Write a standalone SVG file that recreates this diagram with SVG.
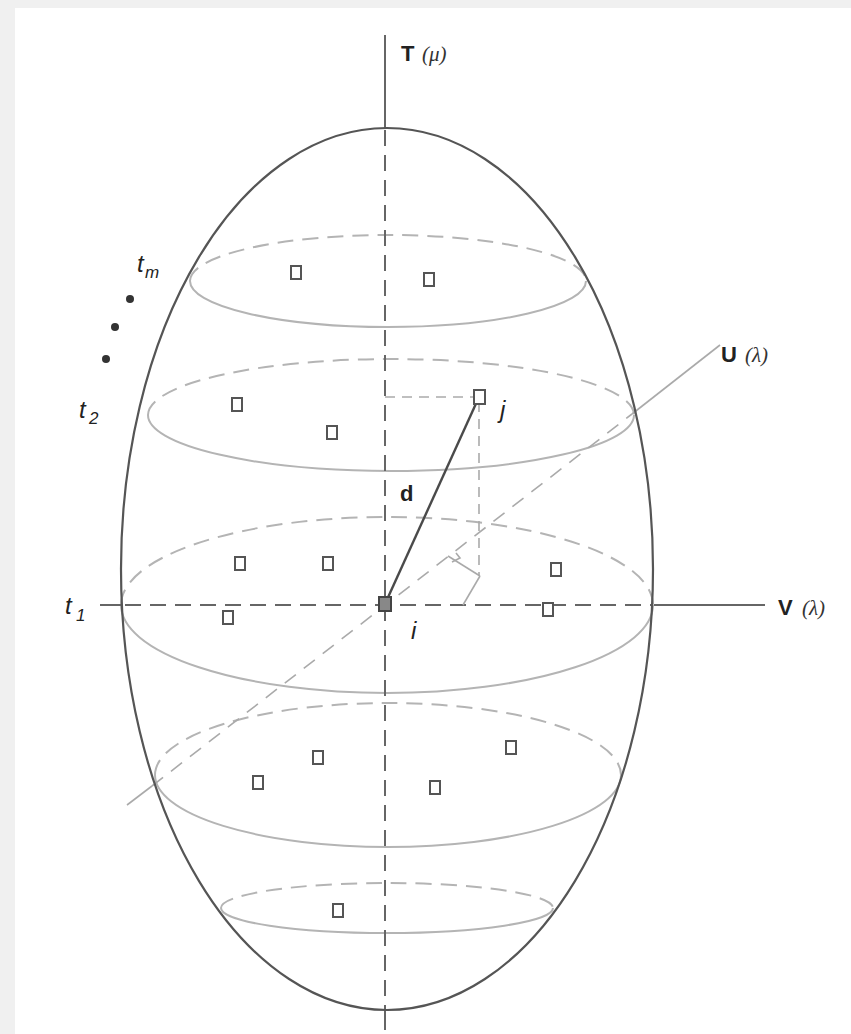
<svg xmlns="http://www.w3.org/2000/svg" width="851" height="1034" viewBox="0 0 851 1034">
<defs>
<style>
.outline{fill:none;stroke:#555;stroke-width:2.2}
.back{fill:none;stroke:#b4b4b4;stroke-width:2;stroke-dasharray:16 9}
.front{fill:none;stroke:#b4b4b4;stroke-width:2}
.axis{fill:none;stroke:#666;stroke-width:2}
.axisd{fill:none;stroke:#666;stroke-width:2;stroke-dasharray:16 9}
.uax{fill:none;stroke:#aaa;stroke-width:1.6}
.uaxd{fill:none;stroke:#aaa;stroke-width:1.6;stroke-dasharray:14 10}
.proj{fill:none;stroke:#aaa;stroke-width:1.6;stroke-dasharray:10 7}
.pt{fill:#fff;stroke:#555;stroke-width:2}
.lbl{font-family:"Liberation Sans",Arial,sans-serif;font-size:22px;fill:#222}
.it{font-family:"Liberation Sans",Arial,sans-serif;font-style:italic;font-size:24px;fill:#222}
.sub{font-family:"Liberation Sans",Arial,sans-serif;font-style:italic;font-size:17px;fill:#222}
.par{font-family:"Liberation Serif","Times New Roman",serif;font-style:italic;font-size:21px;fill:#333}
</style>
</defs>
<rect width="851" height="1034" fill="#f0f0f0"/>
<rect x="15" y="8" width="836" height="1026" fill="#fff"/>

<g id="slices">
<path class="back" d="M190,281 A198,46 0 0 1 586,281"/>
<path class="front" d="M190,281 A198,46 0 0 0 586,281"/>
<path class="back" d="M148,415 A243,56 0 0 1 634,415"/>
<path class="front" d="M148,415 A243,56 0 0 0 634,415"/>
<path class="back" d="M121,605 A266,88 0 0 1 653,605"/>
<path class="front" d="M121,605 A266,88 0 0 0 653,605"/>
<path class="back" d="M155,775 A233,72 0 0 1 621,775"/>
<path class="front" d="M155,775 A233,72 0 0 0 621,775"/>
<path class="back" d="M221,908 A166,25 0 0 1 553,908"/>
<path class="front" d="M221,908 A166,25 0 0 0 553,908"/>
</g>

<g id="connectors">
<line class="axis" x1="385" y1="35" x2="385" y2="128"/>
<line class="axisd" x1="385" y1="130" x2="385" y2="1010"/>
<line class="axis" x1="385" y1="1010" x2="385" y2="1030"/>
<line class="axis" x1="100" y1="605" x2="121" y2="605"/>
<line class="axisd" x1="125" y1="605" x2="652" y2="605"/>
<line class="axis" x1="654" y1="605" x2="765" y2="605"/>
<line class="uax" x1="127" y1="805" x2="152" y2="786"/>
<line class="uaxd" x1="152" y1="786" x2="632" y2="414"/>
<line class="uax" x1="632" y1="414" x2="720" y2="345"/>
<line class="proj" x1="385" y1="397" x2="476" y2="397"/>
<line class="proj" x1="479" y1="402" x2="479" y2="576"/>
<line class="uax" x1="448" y1="556" x2="480" y2="576"/>
<line class="uax" x1="480" y1="576" x2="463" y2="605"/>
<polyline class="uax" points="452,562 460,558 456,553"/>
<line x1="385" y1="604" x2="479" y2="397" stroke="#4a4a4a" stroke-width="2.4"/>
</g>

<g id="surface">
<ellipse class="outline" cx="387" cy="569" rx="266" ry="441"/>
</g>

<g id="points">
<rect class="pt" x="291" y="266" width="10" height="13"/>
<rect class="pt" x="424" y="273" width="10" height="13"/>
<rect class="pt" x="232" y="398" width="10" height="13"/>
<rect class="pt" x="327" y="426" width="10" height="13"/>
<rect class="pt" x="235" y="557" width="10" height="13"/>
<rect class="pt" x="323" y="557" width="10" height="13"/>
<rect class="pt" x="551" y="563" width="10" height="13"/>
<rect class="pt" x="223" y="611" width="10" height="13"/>
<rect class="pt" x="543" y="603" width="10" height="13"/>
<rect class="pt" x="313" y="751" width="10" height="13"/>
<rect class="pt" x="253" y="776" width="10" height="13"/>
<rect class="pt" x="430" y="781" width="10" height="13"/>
<rect class="pt" x="506" y="741" width="10" height="13"/>
<rect class="pt" x="333" y="904" width="10" height="13"/>
</g>
<g id="node-i"><rect x="379" y="597" width="12" height="14" fill="#888" stroke="#444" stroke-width="2"/></g>
<g id="node-j"><rect x="474" y="390" width="11" height="14" fill="#fff" stroke="#555" stroke-width="2"/></g>

<g id="dots">
<circle cx="130" cy="299" r="4" fill="#333"/>
<circle cx="115" cy="327" r="4" fill="#333"/>
<circle cx="106" cy="359" r="4" fill="#333"/>
</g>

<g id="labels">
<text class="lbl" x="401" y="61" font-weight="bold">T</text><text class="par" x="422" y="61">(μ)</text>
<text class="lbl" x="721" y="362" font-weight="bold">U</text><text class="par" x="745" y="362">(λ)</text>
<text class="lbl" x="778" y="615" font-weight="bold">V</text><text class="par" x="802" y="615">(λ)</text>
<text class="lbl" x="400" y="501" font-weight="bold">d</text>
<text class="it" x="500" y="418">j</text>
<text class="it" x="411" y="639">i</text>
<text class="it" x="137" y="272">t</text><text class="sub" x="145" y="278">m</text>
<text class="it" x="79" y="418">t</text><text class="sub" x="89" y="424">2</text>
<text class="it" x="65" y="614">t</text><text class="sub" x="76" y="621">1</text>
</g>
</svg>
